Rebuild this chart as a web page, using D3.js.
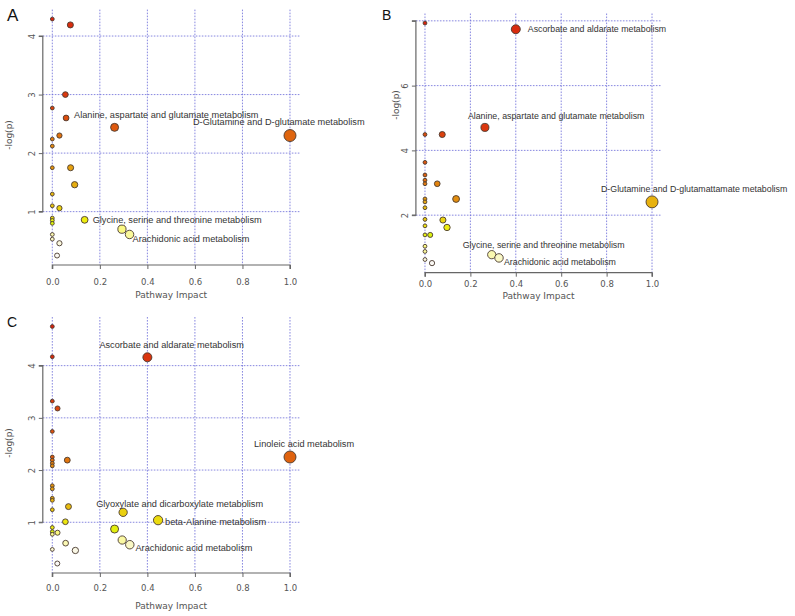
<!DOCTYPE html>
<html>
<head>
<meta charset="utf-8">
<script src="https://cdn.jsdelivr.net/npm/d3@7"></script>
<style>
  body { margin: 0; background: #fff; }
  svg { display: block; font-family: "Liberation Sans", Arial, sans-serif; }
</style>
</head>
<body>
<script>
// panel A
let impactA = [0, 0.076, 0.055, 0, 0.058, 0.262, 1.0, 0.03, 0, 0, 0, 0.077, 0.094, 0, 0, 0.03, 0, 0, 0, 0.136, 0.293, 0.325, 0, 0, 0.03, 0.02]
let logpA = [4.29, 4.19, 3.00, 2.77, 2.60, 2.44, 2.30, 2.30, 2.24, 2.12, 1.75, 1.75, 1.46, 1.30, 1.10, 1.06, 0.89, 0.85, 0.80, 0.86, 0.70, 0.61, 0.61, 0.53, 0.46, 0.25]
let namesA = ['Alanine, aspartate and glutamate metabolism', 'D-Glutamine and D-glutamate metabolism',
  'Glycine, serine and threonine metabolism', 'Arachidonic acid metabolism']
let namedA = [4, 6, 19, 21]

// panel B
let impactB = [0, 0.40, 0.264, 0.076, 0, 0, 0, 0, 0, 0.054, 0.137, 0, 0, 0, 1.0, 0, 0, 0.079, 0.097, 0, 0.023, 0, 0, 0.294, 0.326, 0, 0.031]
let logpB = [7.93, 7.74, 4.71, 4.49, 4.49, 3.63, 3.24, 3.08, 2.97, 2.97, 2.50, 2.50, 2.41, 2.23, 2.41, 1.87, 1.67, 1.85, 1.62, 1.39, 1.39, 1.04, 0.88, 0.78, 0.68, 0.63, 0.52]
let namesB = ['Ascorbate and aldarate metabolism', 'Alanine, aspartate and glutamate metabolism',
  'D-Glutamine and D-glutamattamate metabolism', 'Glycine, serine and threonine metabolism', 'Arachidonic acid metabolism']
let namedB = [1, 2, 14, 23, 24]

// panel C
let impactC = [0, 0, 0.40, 0, 0.022, 0, 0, 0, 0, 0, 0.063, 1.0, 0, 0, 0, 0, 0, 0.068, 0.298, 0.445, 0.055, 0, 0, 0, 0.022, 0.262, 0.294, 0.326, 0.056, 0.097, 0, 0.021]
let logpC = [4.75, 4.17, 4.16, 3.32, 3.18, 2.74, 2.25, 2.19, 2.13, 2.08, 2.19, 2.25, 1.70, 1.64, 1.46, 1.42, 1.24, 1.30, 1.19, 1.04, 1.01, 0.90, 0.82, 0.77, 0.80, 0.87, 0.66, 0.57, 0.60, 0.46, 0.48, 0.21]
let namesC = ['Ascorbate and aldarate metabolism', 'Linoleic acid metabolism',
  'Glyoxylate and dicarboxylate metabolism', 'beta-Alanine metabolism', 'Arachidonic acid metabolism']
let namedC = [2, 11, 18, 19, 27]

let xTicks = [0, 0.2, 0.4, 0.6, 0.8, 1.0]
let yTicksA = [1, 2, 3, 4]
let yTicksB = [2, 4, 6, 8]
let yTicksC = [1, 2, 3, 4]

let svg = d3.select('body').append('svg').attr('width', 795).attr('height', 616)

// R heat.colors(n), by rank of -log(p)
function heatColors (n) {
  let j = Math.floor(n / 4), i = n - j
  let out = []
  for (let k = 0; k < i; k++) {
    let h = i > 1 ? k / (i - 1) / 6 : 0
    let c = d3.hsl(h * 360 + 6, 0.88, 0.5)
    out.push(d3.rgb(c).darker(0.3 * (1 - h * 6)).formatHex())
  }
  for (let k = 0; k < j; k++) {
    let s = j > 1 ? (1 - 1 / (2 * j)) - k * ((1 - 1 / j) / (j - 1)) : 0.5
    out.push(d3.rgb(250, 248, Math.round(120 + 135 * (1 - s))).formatHex())
  }
  return out
}

let rad = d3.scaleSqrt().domain([0, 1]).range([1.9, 6])

function panel (p) {
  let ext = d3.extent(p.logp), pad = (ext[1] - ext[0]) * 0.04
  let x = d3.scaleLinear().domain([-0.04, 1.04]).range([p.left, p.right])
  let y = d3.scaleLinear().domain([ext[0] - pad, ext[1] + pad]).range([p.bottom, p.top])
  let g = svg.append('g')

  g.append('text').attr('x', p.letterX).attr('y', p.letterY)
    .attr('font-family', 'Liberation Sans, Arial').attr('font-size', p.letterSize).attr('fill', '#111')
    .text(p.letter)

  // grid
  g.selectAll('.vg').data(xTicks).enter().append('line')
    .attr('x1', d => x(d)).attr('x2', d => x(d))
    .attr('y1', p.top).attr('y2', p.bottom)
    .attr('stroke', '#6a6ad8').attr('stroke-width', 0.8).attr('stroke-dasharray', '1.6,1.4')
  g.selectAll('.hg').data(p.yTicks).enter().append('line')
    .attr('x1', p.left).attr('x2', p.right)
    .attr('y1', d => y(d)).attr('y2', d => y(d))
    .attr('stroke', '#6a6ad8').attr('stroke-width', 0.8).attr('stroke-dasharray', '1.6,1.4')

  // axes, R style: line runs from first to last tick
  let ax = g.append('g').attr('transform', `translate(0,${p.bottom})`)
    .call(d3.axisBottom(x).tickValues(xTicks).tickFormat(d3.format('.1f')).tickSize(4).tickPadding(p.xPad))
  ax.select('.domain').attr('d', `M${x(0)},4V0H${x(1)}V4`)
  let ay = g.append('g').attr('transform', `translate(${p.left},0)`)
    .call(d3.axisLeft(y).tickValues(p.yTicks).tickFormat(d => p.yLabeled.includes(d) ? d : '').tickSize(4).tickPadding(7))
  ay.select('.domain').attr('d', `M-4,${y(p.yTicks[0])}H0V${y(p.yTicks[p.yTicks.length - 1])}H-4`)
  ay.selectAll('.tick text').attr('transform', 'rotate(-90)').attr('x', 0).attr('dy', 0)
    .attr('y', -8).attr('text-anchor', 'middle')
  for (let a of [ax, ay]) {
    a.select('.domain').attr('stroke', '#666').attr('stroke-width', 1.2)
    a.selectAll('.tick line').attr('stroke', '#666')
    a.selectAll('.tick text').attr('fill', '#555').attr('font-size', 8.5).attr('font-family', 'DejaVu Sans')
  }

  g.append('text').attr('x', (x(0) + x(1)) / 2).attr('y', p.bottom + p.titlePad)
    .attr('text-anchor', 'middle').attr('font-size', 9).attr('fill', '#555').attr('font-family', 'DejaVu Sans')
    .text('Pathway Impact')
  g.append('text').attr('transform', `translate(${p.ylabX},${p.ylabY}) rotate(-90)`)
    .attr('text-anchor', 'middle').attr('font-size', 9).attr('fill', '#555').attr('font-family', 'DejaVu Sans')
    .text('-log(p)')

  // points, colored by rank
  let n = p.logp.length
  let cols = heatColors(n)
  let order = d3.range(n).sort((a, b) => p.logp[b] - p.logp[a])
  let rank = []
  order.forEach((idx, r) => { rank[idx] = r })
  let pts = d3.range(n).map(i => ({ impact: p.impact[i], logp: p.logp[i], col: cols[rank[i]] }))
  pts.sort((a, b) => a.impact - b.impact)
  g.selectAll('circle').data(pts).enter().append('circle')
    .attr('cx', d => x(d.impact)).attr('cy', d => y(d.logp)).attr('r', d => rad(d.impact))
    .attr('fill', d => d.col).attr('stroke', '#4a3a30').attr('stroke-width', 0.9)

  g.selectAll('.lab').data(p.names).enter().append('text')
    .attr('x', (d, i) => x(p.impact[p.named[i]]) + p.shift[i][0])
    .attr('y', (d, i) => y(p.logp[p.named[i]]) + p.shift[i][1])
    .attr('dy', '0.35em').attr('font-size', p.labSize).attr('fill', '#333')
    .text(d => d)
}

panel({
  letter: 'A', letterX: 7, letterY: 21, letterSize: 17,
  impact: impactA, logp: logpA, names: namesA, named: namedA, yTicks: yTicksA, yLabeled: yTicksA,
  left: 42.8, right: 299.5, top: 9.6, bottom: 265, xPad: 10, titlePad: 33, ylabX: 12, ylabY: 135,
  labSize: 9.2, shift: [[8, -3], [-97, -14], [8, 0], [3, 4.5]]
})
panel({
  letter: 'B', letterX: 382, letterY: 19.5, letterSize: 14,
  impact: impactB, logp: logpB, names: namesB, named: namedB, yTicks: yTicksB, yLabeled: [2, 4, 6],
  left: 415.9, right: 661.1, top: 13.5, bottom: 272.7, xPad: 4, titlePad: 26, ylabX: 399, ylabY: 105,
  labSize: 8.8, shift: [[12, 0], [-17, -11.7], [-51, -13], [-29, -9.3], [5, 4.3]]
})
panel({
  letter: 'C', letterX: 7, letterY: 327, letterSize: 14,
  impact: impactC, logp: logpC, names: namesC, named: namedC, yTicks: yTicksC, yLabeled: yTicksC,
  left: 42.8, right: 299.5, top: 317, bottom: 573, xPad: 8, titlePad: 36, ylabX: 12, ylabY: 443,
  labSize: 9.2, shift: [[-48, -13], [-36, -13], [-27, -9], [7, 2], [5.7, 3]]
})
</script>
</body>
</html>
